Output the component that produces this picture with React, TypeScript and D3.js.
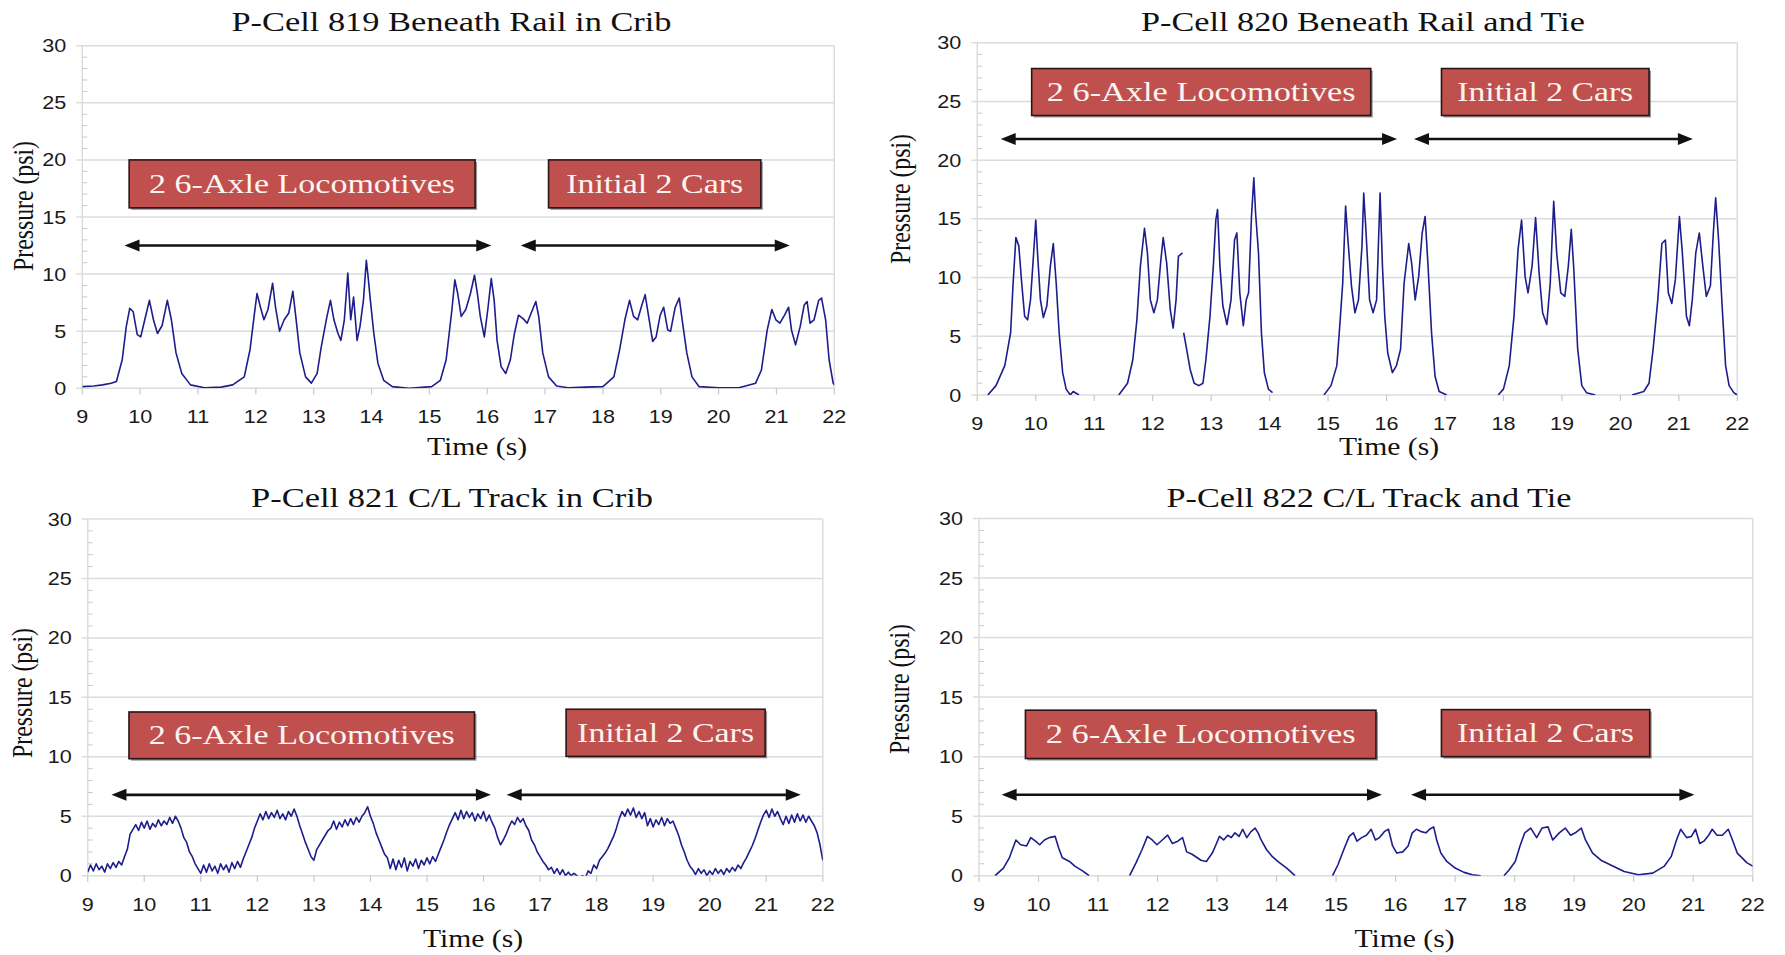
import React from 'react';
import * as d3 from 'd3';

type Pt = [number, number | null];

const timeTicks = [9, 10, 11, 12, 13, 14, 15, 16, 17, 18, 19, 20, 21, 22];
const pressureTicks = [0, 5, 10, 15, 20, 25, 30];
const minorPressureTicks = d3.range(0, 31).filter((v) => v % 5 !== 0);
const spanLabels = ['2 6-Axle Locomotives', 'Initial 2 Cars'];

// P-Cell 819 (time s, pressure psi)
const cell819: Pt[] = [
  [9.0, 0.15], [9.2, 0.2], [9.35, 0.3], [9.5, 0.45], [9.59, 0.6], [9.69, 2.5], [9.76, 5.4], [9.82, 7.0],
  [9.88, 6.7], [9.95, 4.7], [10.01, 4.5], [10.08, 6.0], [10.16, 7.7], [10.23, 6.0], [10.3, 4.8], [10.38, 5.5],
  [10.47, 7.7], [10.54, 6.0], [10.62, 3.1], [10.72, 1.3], [10.87, 0.3], [11.11, 0.05], [11.4, 0.1], [11.6, 0.3],
  [11.8, 1.0], [11.9, 3.4], [11.97, 6.3], [12.02, 8.3], [12.08, 7.1], [12.14, 6.0], [12.21, 6.9], [12.29, 9.2],
  [12.34, 7.1], [12.41, 5.0], [12.49, 6.0], [12.57, 6.6], [12.64, 8.5], [12.69, 6.3], [12.76, 3.1], [12.86, 1.0],
  [12.96, 0.45], [13.06, 1.3], [13.13, 3.6], [13.23, 6.3], [13.29, 7.7], [13.35, 6.0], [13.42, 4.8], [13.47, 4.2],
  [13.53, 6.0], [13.59, 10.1], [13.64, 6.0], [13.69, 8.0], [13.75, 4.2], [13.8, 5.4], [13.86, 7.7], [13.91, 11.2],
  [13.94, 9.8], [13.98, 7.7], [14.04, 4.8], [14.11, 2.2], [14.21, 0.7], [14.36, 0.15], [14.65, 0.0], [15.04, 0.15],
  [15.19, 0.7], [15.29, 2.5], [15.39, 6.9], [15.44, 9.5], [15.49, 8.3], [15.55, 6.3], [15.63, 6.9], [15.71, 8.3],
  [15.78, 9.9], [15.83, 8.3], [15.88, 6.3], [15.95, 4.5], [16.01, 6.9], [16.07, 9.6], [16.12, 7.7], [16.17, 4.2],
  [16.24, 1.9], [16.32, 1.3], [16.4, 2.5], [16.47, 4.8], [16.54, 6.4], [16.62, 6.1], [16.69, 5.7], [16.76, 6.6],
  [16.84, 7.6], [16.89, 6.3], [16.96, 3.1], [17.06, 1.0], [17.2, 0.2], [17.4, 0.05], [17.7, 0.1], [18.0, 0.15],
  [18.19, 1.0], [18.29, 3.4], [18.38, 6.0], [18.46, 7.7], [18.53, 6.3], [18.6, 6.0], [18.68, 7.4], [18.73, 8.2],
  [18.8, 6.0], [18.86, 4.1], [18.92, 4.5], [18.99, 6.4], [19.05, 7.1], [19.12, 5.1], [19.17, 5.0], [19.25, 7.1],
  [19.32, 7.9], [19.37, 6.0], [19.45, 3.1], [19.54, 1.0], [19.66, 0.15], [20.0, 0.05], [20.35, 0.05], [20.64, 0.45],
  [20.74, 1.6], [20.84, 5.1], [20.92, 6.9], [20.99, 6.0], [21.06, 5.7], [21.14, 6.4], [21.21, 7.1], [21.26, 5.1],
  [21.33, 3.8], [21.41, 5.4], [21.48, 7.3], [21.53, 7.6], [21.58, 5.7], [21.65, 6.0], [21.73, 7.7], [21.78, 7.9],
  [21.85, 6.0], [21.91, 2.5], [21.98, 0.45], [22.0, 0.3],
];

// P-Cell 820 (null = trace not drawn)
const cell820: Pt[] = [
  [9.18, 0], [9.32, 0.8], [9.47, 2.5], [9.57, 5.3], [9.61, 9.3], [9.66, 13.4], [9.71, 12.7], [9.76, 9.5],
  [9.81, 6.7], [9.86, 6.4], [9.91, 8.1], [9.96, 11.8], [10.0, 14.9], [10.03, 12.1], [10.08, 8.1], [10.13, 6.6],
  [10.19, 7.6], [10.25, 11.0], [10.3, 12.9], [10.35, 9.5], [10.4, 5.3], [10.46, 1.9], [10.52, 0.5], [10.59, 0],
  [10.64, 0.3], [10.74, 0], [10.8, null],
  [11.42, 0], [11.57, 1.0], [11.66, 3.0], [11.73, 6.4], [11.79, 11.0], [11.86, 14.2], [11.91, 12.1], [11.96, 8.1],
  [12.02, 7.0], [12.08, 8.1], [12.14, 11.5], [12.18, 13.4], [12.24, 11.2], [12.3, 7.3], [12.35, 5.7], [12.4, 8.1],
  [12.44, 11.8], [12.51, 12.1], [12.52, null],
  [12.53, 5.3], [12.57, 4.2], [12.64, 2.2], [12.71, 1.0], [12.79, 0.8], [12.86, 1.0], [12.91, 3.0], [12.98, 6.7],
  [13.04, 11.2], [13.08, 14.9], [13.11, 15.8], [13.15, 11.0], [13.2, 7.6], [13.27, 6.0], [13.34, 8.1], [13.4, 13.2],
  [13.44, 13.8], [13.49, 8.7], [13.55, 5.9], [13.6, 8.1], [13.64, 8.7], [13.69, 15.2], [13.73, 18.5], [13.76, 15.5],
  [13.81, 12.1], [13.86, 5.3], [13.91, 1.9], [13.98, 0.5], [14.05, 0.2], [14.1, null],
  [14.93, 0], [15.05, 0.8], [15.15, 2.5], [15.2, 5.9], [15.25, 9.5], [15.3, 16.1], [15.34, 13.2], [15.4, 9.3],
  [15.46, 7.0], [15.52, 8.1], [15.58, 12.7], [15.61, 17.2], [15.65, 13.8], [15.71, 8.1], [15.77, 7.0], [15.83, 8.1],
  [15.89, 17.2], [15.93, 11.0], [15.97, 6.7], [16.02, 3.6], [16.1, 1.9], [16.17, 2.5], [16.24, 3.9], [16.3, 9.5],
  [16.38, 12.9], [16.43, 11.2], [16.49, 8.1], [16.55, 10.1], [16.61, 13.8], [16.66, 15.2], [16.71, 11.0], [16.77, 5.3],
  [16.83, 1.6], [16.9, 0.3], [17.03, 0], [17.1, null],
  [17.91, 0], [18.0, 0.5], [18.1, 2.5], [18.18, 6.7], [18.25, 12.4], [18.31, 14.9], [18.37, 10.1], [18.42, 8.7],
  [18.49, 11.0], [18.55, 15.1], [18.61, 10.4], [18.67, 7.0], [18.74, 6.0], [18.8, 9.5], [18.86, 16.5], [18.91, 12.1],
  [18.98, 8.7], [19.05, 8.4], [19.11, 11.0], [19.16, 14.1], [19.2, 11.0], [19.27, 3.9], [19.34, 0.8], [19.42, 0.2],
  [19.57, 0], [19.6, null],
  [20.2, 0], [20.4, 0.3], [20.49, 1.0], [20.56, 3.9], [20.64, 8.1], [20.71, 12.9], [20.77, 13.2], [20.82, 8.7],
  [20.88, 7.8], [20.94, 9.8], [21.01, 15.2], [21.06, 12.1], [21.13, 6.7], [21.18, 5.9], [21.23, 8.1], [21.29, 12.1],
  [21.35, 13.8], [21.41, 11.0], [21.47, 8.4], [21.54, 9.3], [21.59, 13.8], [21.63, 16.8], [21.68, 13.2], [21.74, 7.6],
  [21.8, 2.5], [21.86, 0.8], [21.94, 0.2], [22.0, 0],
];

// P-Cell 821, sampled every 0.05 s from 9 s
const cell821Start = 9;
const cell821Step = 0.05;
const cell821: number[] = [
  0.3, 0.9, 0.4, 1.0, 0.5, 0.8, 0.3, 1.0, 0.6, 1.1, 0.7, 1.2, 0.9,
  1.6, 2.2, 3.5, 3.9, 4.3,
  3.8, 4.5, 4.0, 4.6, 3.9, 4.4, 4.1, 4.7, 4.2, 4.6, 4.3, 4.9, 4.4, 5.0,
  4.6, 4.0, 3.2, 2.8, 2.0, 1.6, 1.0, 0.6, 0.2,
  0.9, 0.3, 1.0, 0.4, 0.8, 0.2, 1.0, 0.5, 0.9, 0.3, 1.1, 0.6, 1.2, 0.7,
  1.4, 2.0, 2.6, 3.2, 4.0, 4.6,
  5.2, 4.7, 5.4, 4.8, 5.3, 4.9, 5.5, 4.8, 5.2, 4.7, 5.4, 5.0, 5.6,
  5.0, 4.2, 3.5, 2.8, 2.2, 1.6, 1.3, 2.2, 2.6, 3.0, 3.4, 3.8,
  4.0, 4.6, 3.9, 4.5, 4.1, 4.7, 4.2, 4.8, 4.3, 4.9, 4.5, 5.0,
  5.3, 5.8, 5.0, 4.4, 3.6, 3.0, 2.4, 1.8, 1.5,
  0.6, 1.4, 0.5, 1.3, 0.7, 1.5, 0.4, 1.2, 0.8, 1.4, 0.6, 1.3, 0.9, 1.5, 1.0, 1.6, 1.2,
  1.8, 2.4, 3.0, 3.7, 4.3, 4.8,
  5.3, 4.7, 5.5, 4.8, 5.4, 4.9, 5.3, 4.6, 5.2, 4.8, 5.4, 4.6, 5.1, 4.5,
  4.0, 3.2, 2.6, 3.0, 3.5, 4.1, 4.6, 4.3, 4.9, 4.5, 4.8, 4.2, 3.8, 3.0, 2.6, 2.0,
  1.6, 1.2, 0.9, 0.5, 0.7, 0.2, 0.6, 0.1, 0.5, 0.0, 0.3, 0.0, 0.2, 0.0, -0.2, 0.0,
  -0.2, 0.4, 0.2, 0.9, 0.6, 1.3, 1.6, 1.9, 2.3, 2.8, 3.3, 4.0, 4.8, 5.4,
  5.0, 5.6, 5.1, 5.7, 4.9, 5.4, 4.8, 5.3,
  4.2, 4.8, 4.1, 4.7, 4.3, 4.9, 4.2, 4.8, 4.4, 4.6,
  4.0, 3.4, 2.6, 2.0, 1.3, 0.8, 0.5,
  0.1, 0.6, 0.2, 0.5, 0.0, 0.4, 0.1, 0.6, 0.2, 0.5, 0.1, 0.6, 0.3, 0.7, 0.4,
  0.9, 0.6, 1.1, 1.5, 2.0, 2.5, 3.1, 3.8, 4.5, 5.1,
  5.5, 4.9, 5.6, 5.0, 5.4, 4.8,
  4.3, 5.0, 4.4, 5.1, 4.5, 5.2, 4.6, 5.1, 4.5, 5.0, 4.6,
  4.2, 3.6, 2.6, 1.3,
];

// P-Cell 822
const cell822: Pt[] = [
  [9.27, 0], [9.41, 0.64], [9.51, 1.5], [9.62, 3.0], [9.7, 2.6], [9.8, 2.5], [9.87, 3.2], [9.95, 2.9],
  [10.02, 2.6], [10.1, 3.0], [10.18, 3.2], [10.28, 3.3], [10.34, 2.3], [10.4, 1.5], [10.52, 1.2], [10.61, 0.8],
  [10.74, 0.4], [10.85, 0], [10.9, null],
  [11.53, 0], [11.64, 1.1], [11.74, 2.2], [11.83, 3.3], [11.91, 3.0], [11.99, 2.6], [12.08, 3.0], [12.17, 3.4],
  [12.25, 2.7], [12.34, 2.9], [12.42, 3.2], [12.49, 2.0], [12.58, 1.8], [12.73, 1.3], [12.82, 1.2], [12.92, 1.9],
  [12.99, 2.7], [13.04, 3.3], [13.11, 3.0], [13.18, 3.4], [13.24, 3.2], [13.3, 3.6], [13.37, 3.3], [13.43, 3.9],
  [13.5, 3.2], [13.57, 3.7], [13.64, 4.0], [13.69, 3.6], [13.74, 3.0], [13.83, 2.2], [13.93, 1.6], [14.02, 1.2],
  [14.17, 0.64], [14.31, 0], [14.4, null],
  [14.94, 0], [15.03, 0.9], [15.13, 2.2], [15.22, 3.3], [15.29, 3.6], [15.35, 2.9], [15.43, 3.2], [15.51, 3.4],
  [15.59, 3.9], [15.66, 3.0], [15.73, 3.2], [15.81, 3.7], [15.88, 3.9], [15.95, 2.5], [16.02, 1.9], [16.12, 2.0],
  [16.21, 2.5], [16.28, 3.6], [16.35, 3.9], [16.43, 3.7], [16.51, 3.6], [16.57, 3.9], [16.64, 4.1], [16.69, 3.0],
  [16.76, 1.9], [16.86, 1.2], [17.0, 0.64], [17.15, 0.28], [17.29, 0.08], [17.43, 0], [17.5, null],
  [17.82, 0], [17.91, 0.5], [18.01, 1.2], [18.09, 2.5], [18.17, 3.6], [18.27, 4.0], [18.37, 3.2], [18.46, 4.0],
  [18.56, 4.1], [18.64, 3.0], [18.75, 3.6], [18.85, 4.0], [18.94, 3.4], [19.02, 3.6], [19.12, 4.0], [19.19, 3.0],
  [19.31, 1.9], [19.45, 1.3], [19.64, 0.84], [19.84, 0.36], [20.08, 0.08], [20.32, 0.22], [20.51, 0.78], [20.63, 1.6],
  [20.72, 3.0], [20.79, 3.9], [20.89, 3.2], [20.97, 3.3], [21.04, 3.9], [21.11, 2.7], [21.18, 2.9], [21.26, 3.4],
  [21.32, 3.9], [21.4, 3.4], [21.49, 3.4], [21.59, 3.9], [21.66, 3.0], [21.74, 1.9], [21.8, 1.6], [21.9, 1.1],
  [22.0, 0.8],
];

const cell821Points: Pt[] = cell821.map((v, i) => [cell821Start + i * cell821Step, v]);

const SERIF = '"Liberation Serif", "Times New Roman", serif';
const SANS = '"Liberation Sans", Arial, sans-serif';
const LINE = '#1d1d8c';
const GRID = '#dcdcdc';
const BOX = '#c0504d';

// layout of each chart on the page (pixels) and its annotations (time / psi)
const panels = [
  {
    id: 'p819', title: 'P-Cell 819 Beneath Rail in Crib', data: cell819,
    left: 82.3, right: 834.3, bottom: 388.3, top: 45.7,
    titleX: 451.5, titleY: 31, titleLen: 440,
    timeX: 477, timeY: 455, yLabX: 33, yLabY: 206,
    boxes: [[9.81, 15.79, 15.8, 20.0], [17.06, 20.73, 15.8, 20.0]],
    textLens: [306, 177],
    arrows: [[9.73, 16.07], [16.58, 21.23]], arrowAt: 12.5,
  },
  {
    id: 'p820', title: 'P-Cell 820 Beneath Rail and Tie', data: cell820,
    left: 977.3, right: 1737.3, bottom: 395, top: 42.7,
    titleX: 1363, titleY: 31, titleLen: 444,
    timeX: 1389, timeY: 455, yLabX: 910, yLabY: 199,
    boxes: [[9.93, 15.73, 23.8, 27.8], [16.94, 20.49, 23.8, 27.8]],
    textLens: [309, 176],
    arrows: [[9.4, 16.18], [16.47, 21.24]], arrowAt: 21.8,
  },
  {
    id: 'p821', title: 'P-Cell 821 C/L Track in Crib', data: cell821Points,
    left: 87.7, right: 822.8, bottom: 875.7, top: 519,
    titleX: 452, titleY: 507, titleLen: 402,
    timeX: 473, timeY: 947, yLabX: 32, yLabY: 693,
    boxes: [[9.73, 15.84, 9.84, 13.77], [17.46, 20.98, 10.04, 14.0]],
    textLens: [306, 177],
    arrows: [[9.42, 16.13], [16.41, 21.61]], arrowAt: 6.8,
  },
  {
    id: 'p822', title: 'P-Cell 822 C/L Track and Tie', data: cell822,
    left: 979, right: 1752.7, bottom: 875.7, top: 518.5,
    titleX: 1369, titleY: 507, titleLen: 405,
    timeX: 1404.5, timeY: 947, yLabX: 909, yLabY: 689,
    boxes: [[9.78, 15.67, 9.84, 13.9], [16.77, 20.27, 10.0, 13.95]],
    textLens: [310, 177],
    arrows: [[9.38, 15.77], [16.26, 21.02]], arrowAt: 6.8,
  },
];

type PanelCfg = (typeof panels)[number];

function Panel({ p }: { p: PanelCfg }) {
  const x = d3.scaleLinear().domain([9, 22]).range([p.left, p.right]);
  const y = d3.scaleLinear().domain([0, 30]).range([p.bottom, p.top]);
  const line = d3
    .line<Pt>()
    .defined((d) => d[1] !== null)
    .x((d) => x(d[0]))
    .y((d) => y(d[1] as number));

  const hl = 15;
  const hw = 6;

  return (
    <g>
      <defs>
        <clipPath id={`clip-${p.id}`}>
          <rect x={p.left} y={p.top - 2} width={p.right - p.left} height={p.bottom - p.top + 2} />
        </clipPath>
      </defs>

      {/* grid and frame */}
      {pressureTicks.map((t) => (
        <line key={`g${t}`} x1={p.left - 6} x2={p.right} y1={y(t)} y2={y(t)} stroke={GRID} strokeWidth={1.5} />
      ))}
      <line x1={p.left} x2={p.left} y1={p.top} y2={p.bottom} stroke={GRID} strokeWidth={1.5} />
      <line x1={p.right} x2={p.right} y1={p.top} y2={p.bottom} stroke={GRID} strokeWidth={1.5} />
      {minorPressureTicks.map((t) => (
        <line key={`m${t}`} x1={p.left} x2={p.left + 5} y1={y(t)} y2={y(t)} stroke="#c8c8c8" strokeWidth={1} />
      ))}
      {timeTicks.map((t) => (
        <line key={`xt${t}`} x1={x(t)} x2={x(t)} y1={p.bottom} y2={p.bottom + 6} stroke="#c8c8c8" strokeWidth={1.2} />
      ))}

      {/* tick labels */}
      {pressureTicks.map((t) => (
        <text
          key={`yl${t}`}
          transform={`translate(${p.left - 16},${y(t) + 6.5}) scale(1.2,1)`}
          textAnchor="end"
          fontFamily={SANS}
          fontSize={18}
          fill="#1a1a1a"
        >
          {t}
        </text>
      ))}
      {timeTicks.map((t) => (
        <text
          key={`xl${t}`}
          transform={`translate(${x(t)},${p.bottom + 35}) scale(1.2,1)`}
          textAnchor="middle"
          fontFamily={SANS}
          fontSize={18}
          fill="#1a1a1a"
        >
          {t}
        </text>
      ))}

      {/* titles */}
      <text x={p.titleX} y={p.titleY} textAnchor="middle" fontFamily={SERIF} fontSize={27}
        textLength={p.titleLen} lengthAdjust="spacingAndGlyphs" fill="#111">
        {p.title}
      </text>
      <text x={p.timeX} y={p.timeY} textAnchor="middle" fontFamily={SERIF} fontSize={25}
        textLength={100} lengthAdjust="spacingAndGlyphs" fill="#111">
        Time (s)
      </text>
      <text transform={`translate(${p.yLabX},${p.yLabY}) scale(1.25,1) rotate(-90)`} textAnchor="middle"
        fontFamily={SERIF} fontSize={24} textLength={130} lengthAdjust="spacingAndGlyphs" fill="#111">
        Pressure (psi)
      </text>

      {/* data trace */}
      <path d={line(p.data) ?? ''} fill="none" stroke={LINE} strokeWidth={1.6} strokeLinejoin="round"
        clipPath={`url(#clip-${p.id})`} />

      {/* span boxes */}
      {p.boxes.map((b, i) => {
        const bx = x(b[0]);
        const bw = x(b[1]) - x(b[0]);
        const by = y(b[3]);
        const bh = y(b[2]) - y(b[3]);
        return (
          <g key={`b${i}`}>
            <rect x={bx + 2} y={by + 2} width={bw} height={bh} fill="#444" opacity={0.55} />
            <rect x={bx} y={by} width={bw} height={bh} fill={BOX} stroke="#2a1515" strokeWidth={1.6} />
            <text x={bx + bw / 2} y={by + bh / 2 + 9} textAnchor="middle" fontFamily={SERIF} fontSize={27}
              textLength={p.textLens[i]} lengthAdjust="spacingAndGlyphs" fill="#fbf4f2">
              {spanLabels[i]}
            </text>
          </g>
        );
      })}

      {/* span arrows */}
      {p.arrows.map((a, i) => {
        const x1 = x(a[0]);
        const x2 = x(a[1]);
        const ay = y(p.arrowAt);
        return (
          <g key={`a${i}`}>
            <line x1={x1 + hl - 1} x2={x2 - hl + 1} y1={ay} y2={ay} stroke="#111" strokeWidth={2.6} />
            <polygon points={`${x1},${ay} ${x1 + hl},${ay - hw} ${x1 + hl},${ay + hw}`} fill="#111" />
            <polygon points={`${x2},${ay} ${x2 - hl},${ay - hw} ${x2 - hl},${ay + hw}`} fill="#111" />
          </g>
        );
      })}
    </g>
  );
}

export default function App() {
  return (
    <svg
      width={1785}
      height={955}
      viewBox="0 0 1785 955"
      style={{ position: 'absolute', left: 0, top: 0, background: '#fff', display: 'block' }}
    >
      <rect width={1785} height={955} fill="#fff" />
      {panels.map((p) => (
        <Panel key={p.id} p={p} />
      ))}
    </svg>
  );
}
